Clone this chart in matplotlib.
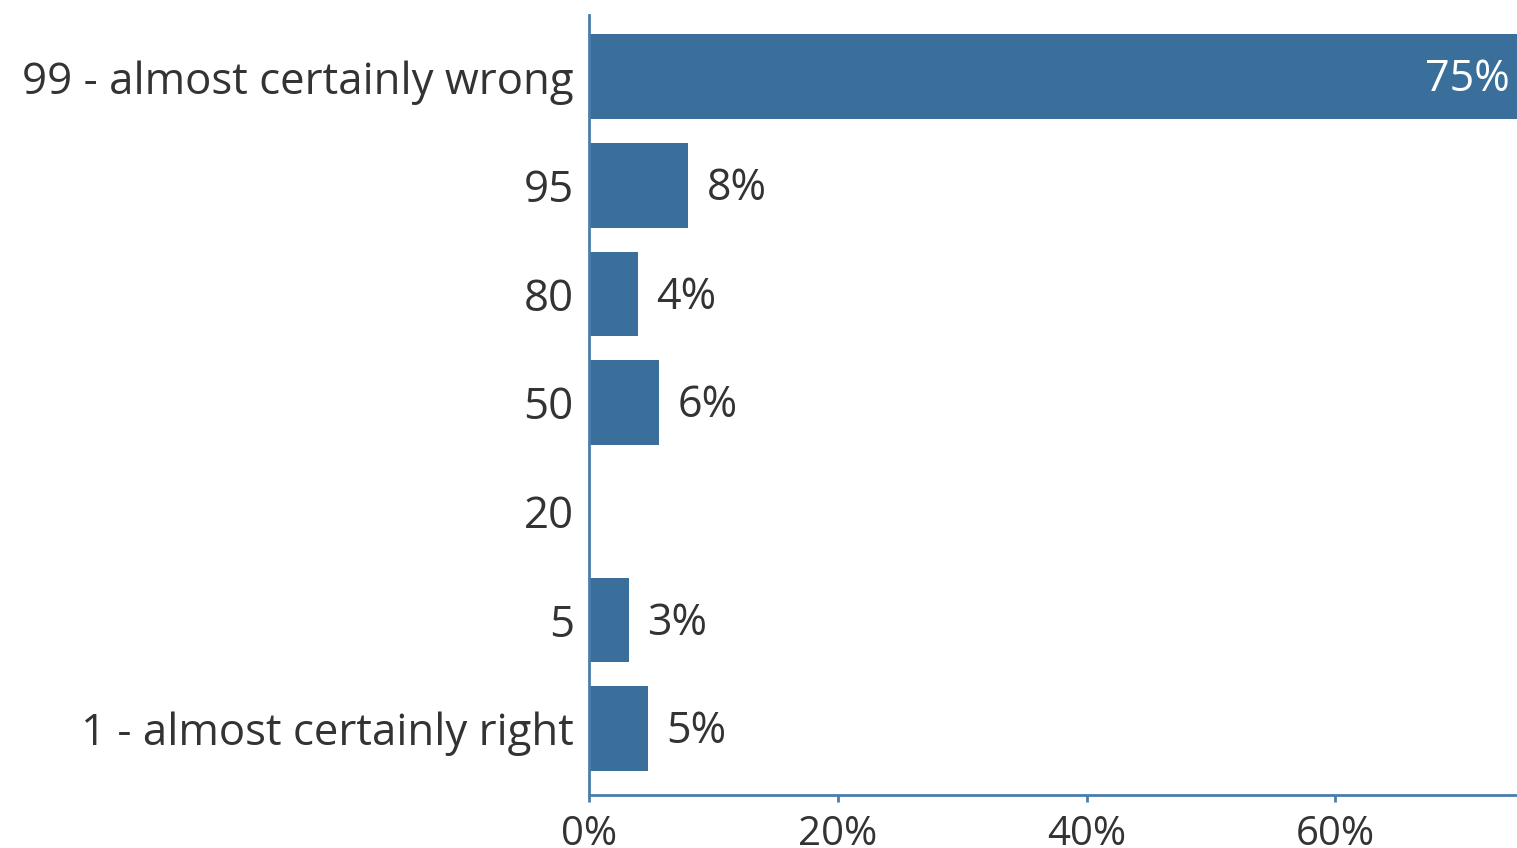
import matplotlib
matplotlib.use('Agg')
import matplotlib.pyplot as plt
from matplotlib.ticker import PercentFormatter

# answers, top to bottom
categories = ['99 - almost certainly wrong', '95', '80', '50', '20', '5', '1 - almost certainly right']
shares = [75.0, 7.95, 3.9, 5.6, 0.0, 3.2, 4.7]
labels = ['75%', '8%', '4%', '6%', '', '3%', '5%']

bar_color = '#3a6f9c'
axis_color = '#4a7dab'
text_color = '#333333'

plt.rcParams['font.family'] = ['Open Sans', 'DejaVu Sans']

fig = plt.figure(figsize=(15.17, 8.48), dpi=100)
ax = fig.add_axes([0.3883, 0.0625, 0.6117, 0.92])

ypos = list(range(len(categories)))
ax.barh(ypos, shares, height=0.78, color=bar_color)

for y, v, lab in zip(ypos, shares, labels):
    if not lab:
        continue
    if v > 50:
        ax.text(74.0, y + 0.03, lab, ha='right', va='center', color='white', fontsize=31)
    else:
        ax.text(v + 1.5, y + 0.03, lab, ha='left', va='center', color=text_color, fontsize=31)

ax.set_xlim(0, 74.6)
ax.set_ylim(len(categories) - 0.39, -0.57)
ax.set_yticks(ypos)
ax.set_yticklabels(categories, fontsize=31.5, color=text_color)
for t in ax.get_yticklabels():
    t.set_y(t.get_position()[1])
ax.set_xticks([0, 20, 40, 60])
ax.xaxis.set_major_formatter(PercentFormatter(decimals=0))
ax.tick_params(axis='x', labelsize=29, colors=text_color, color=axis_color, length=5, width=2, pad=9)
ax.tick_params(axis='y', length=0, pad=11)

for side in ['top', 'right']:
    ax.spines[side].set_visible(False)
for side in ['left', 'bottom']:
    ax.spines[side].set_color(axis_color)
    ax.spines[side].set_linewidth(2)

fig.savefig('out.png', dpi=100)
